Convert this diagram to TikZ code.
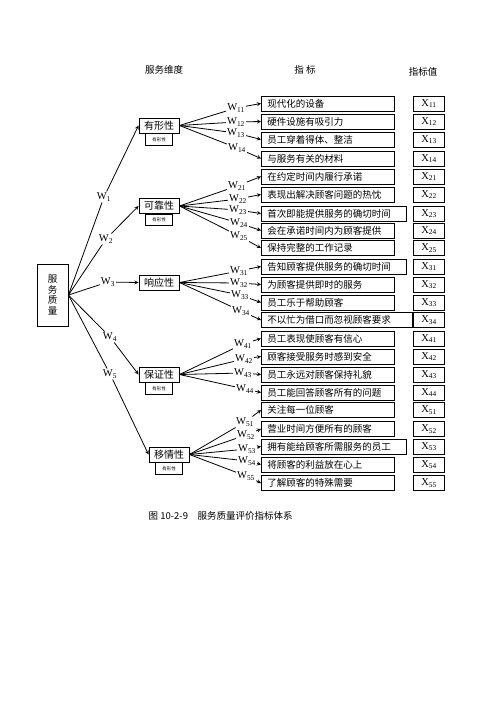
\documentclass[tikz,border=0pt]{standalone}
\usepackage{fontspec}
\setmainfont{Liberation Serif}
\newfontfamily\cjk{Noto Sans CJK SC}
\usepackage{tikz}
\usetikzlibrary{arrows}
\tikzstyle{arrow} = [line width=0.8pt,->,>=stealth]

\begin{document}
\begin{tikzpicture}[x=1pt,y=-1pt,line width=0.8pt]
    \tikzstyle{box}=[draw,line width=0.9pt,inner sep=0pt]
    \tikzstyle{root}=[box,minimum width=31pt,minimum height=62pt,align=center,font=\cjk\fontsize{9.5}{10.5}\selectfont]
    \tikzstyle{dim}=[box,minimum width=40pt,minimum height=15pt,font=\cjk\fontsize{10}{10}\selectfont]
    \tikzstyle{sub}=[box,anchor=north,minimum width=27pt,minimum height=11.5pt,font=\cjk\fontsize{4.5}{5}\selectfont]
    \tikzstyle{item}=[box,anchor=west,minimum height=15pt,inner xsep=6pt,align=left,font=\cjk\fontsize{9.5}{10}\selectfont]
    \tikzstyle{value}=[box,minimum width=31pt,minimum height=15pt,font=\fontsize{10.5}{11}\selectfont]
    \tikzstyle{weight}=[inner sep=0.8pt,font=\fontsize{10.5}{11}\selectfont]
    \tikzstyle{head}=[font=\cjk\fontsize{9.5}{10}\selectfont]

    \useasboundingbox (0,0) rectangle (496,702);

    % headings
    \node[head] (H-1) at (164,70) {服务维度};
    \node[head] (H-2) at (305,70) {指\ 标};
    \node[head] (H-3) at (423,72) {指标值};

    % root and dimensions
    \node[root] (R) at (52.5,295) {服\\务\\质\\量};
    \node[dim] (D-1) at (159,125.5) {有形性};
    \node[dim] (D-2) at (159,206) {可靠性};
    \node[dim] (D-3) at (159,282.5) {响应性};
    \node[dim] (D-4) at (159,374.5) {保证性};
    \node[dim] (D-5) at (169,454.5) {移情性};
    \foreach \name in {1,2,4,5}
        \node[sub] (S-\name) at (D-\name.south) {有形性};

    % weights of the dimensions
    \foreach \name / \x / \y in {1/104/197,2/106/239,3/108/282,4/110/337,5/110/374}
        \node[weight] (W-\name) at (\x,\y) {W\textsubscript{\name}};
    \foreach \name in {1,...,5}{
        \draw (R.east) -- (W-\name);
        \draw[arrow] (W-\name) -- (D-\name.west);
    }

    % indicators
    \foreach \name / \y / \w / \txt in {
        11/103.5/121/现代化的设备, 12/121.5/121/硬件设施有吸引力,
        13/139.5/121/员工穿着得体、整洁, 14/158.5/121/与服务有关的材料,
        21/176.5/121/在约定时间内履行承诺, 22/194.5/121/表现出解决顾客问题的热忱,
        23/213.5/133/首次即能提供服务的确切时间, 24/230.5/121/会在承诺时间内为顾客提供,
        25/248/121/保持完整的工作记录, 31/266.5/133/告知顾客提供服务的确切时间,
        32/284.5/121/为顾客提供即时的服务, 33/302.5/121/员工乐于帮助顾客,
        34/320/139/不以忙为借口而忽视顾客要求, 41/338.5/121/员工表现使顾客有信心,
        42/356.5/121/顾客接受服务时感到安全, 43/374.5/121/员工永远对顾客保持礼貌,
        44/392.5/121/员工能回答顾客所有的问题, 51/410/121/关注每一位顾客,
        52/429/121/营业时间方便所有的顾客, 53/446.5/133/拥有能给顾客所需服务的员工,
        54/464.5/121/将顾客的利益放在心上, 55/483/121/了解顾客的特殊需要}
    {
        \node[item,text width=\w pt] (Z-\name) at (261,\y) {\txt};
        \node[value] (V-\name) at (429,\y) {X\textsubscript{\name}};
    }

    % weights of the indicators
    \foreach \name / \x / \y in {
        11/236/108, 12/236/122, 13/236/133, 14/237/148,
        21/237/186, 22/238/199, 23/238/210, 24/239/223, 25/239/236,
        31/239/271, 32/239/283, 33/240/295, 34/241/311,
        41/243/344, 42/244/359, 43/243/373, 44/245/389,
        51/245/422, 52/246/435, 53/247/449, 54/247/461, 55/246/476}
        \node[weight] (W-\name) at (\x,\y) {W\textsubscript{\name}};

    \foreach \d / \n in {1/4,2/5,3/4,4/4,5/5}
        \foreach \k in {1,...,\n}{
            \draw (D-\d.east) -- (W-\d\k);
            \draw[arrow] (W-\d\k) -- (Z-\d\k.west);
        }

    % caption
    \node[head,anchor=west] (cap) at (145,516) {图 10-2-9\quad 服务质量评价指标体系};
\end{tikzpicture}
\end{document}
